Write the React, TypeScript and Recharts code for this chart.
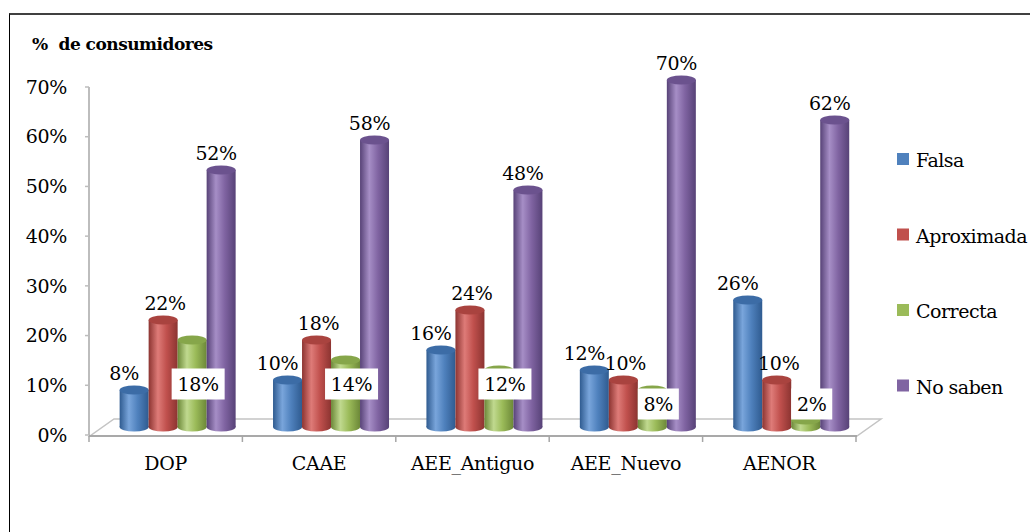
import React from 'react'
import { BarChart, Bar, XAxis, YAxis, LabelList } from 'recharts'

const categories = ['DOP', 'CAAE', 'AEE_Antiguo', 'AEE_Nuevo', 'AENOR']
const falsa = [8, 10, 16, 12, 26]
const aproximada = [22, 18, 24, 10, 10]
const correcta = [18, 14, 12, 8, 2]
const noSaben = [52, 58, 48, 70, 62]
const yTicks = [0, 10, 20, 30, 40, 50, 60, 70]

const FONT = 'DejaVu Serif, serif'
const FS = 19
const LS = -0.3

// cylinder colours: edge, highlight, body, cap; dx nudges the value label
const SERIES = [
  { key: 'falsa', name: 'Falsa', color: '#4F81BD', edge: '#2f5b90', light: '#79a5db', cap: '#3c6ca6', dx: -10 },
  { key: 'aproximada', name: 'Aproximada', color: '#C0504D', edge: '#8c3431', light: '#de7b78', cap: '#a9433f', dx: 2 },
  { key: 'correcta', name: 'Correcta', color: '#9BBB59', edge: '#6c8838', light: '#c0d98f', cap: '#86a64a', dx: 6 },
  { key: 'noSaben', name: 'No saben', color: '#8064A2', edge: '#574277', light: '#a68ec6', cap: '#6b528e', dx: -5 },
]

const data = categories.map((cat, i) => ({
  cat,
  falsa: falsa[i],
  aproximada: aproximada[i],
  correcta: correcta[i],
  noSaben: noSaben[i],
}))

// chart frame
const W = 1030
const H = 532
const PLOT_L = 89
const PLOT_R = 856
const PLOT_T = 87
const PLOT_B = 435
const BAND = (PLOT_R - PLOT_L) / categories.length

// 3D depth: bars stand half way back on the floor
const DEPTH_X = 11
const CAP_ZERO = 430
const BASE_Y = 427
const LIFT = 350 / (PLOT_B - PLOT_T)
const RY = 4.5
const FLOOR_BACK_Y = 419
const FLOOR_FRONT_Y = 436
const FLOOR_DX = 24

const capY = (y: number) => CAP_ZERO - (PLOT_B - y) * LIFT

function Cylinder(props: any) {
  const { x, y, width, index, s } = props
  const left = x + DEPTH_X
  const cx = left + width / 2
  const top = capY(y)
  const id = `cyl-${s.key}-${index}`
  return (
    <g>
      <defs>
        <linearGradient id={id} x1="0" y1="0" x2="1" y2="0">
          <stop offset="0%" stopColor={s.edge} />
          <stop offset="32%" stopColor={s.light} />
          <stop offset="62%" stopColor={s.color} />
          <stop offset="100%" stopColor={s.edge} />
        </linearGradient>
      </defs>
      <ellipse cx={cx} cy={BASE_Y} rx={width / 2} ry={RY} fill={`url(#${id})`} />
      <rect x={left} y={top} width={width} height={Math.max(0, BASE_Y - top)} fill={`url(#${id})`} />
      <ellipse cx={cx} cy={top} rx={width / 2} ry={RY} fill={s.cap} />
    </g>
  )
}

function box(p: any) {
  const vb = p.viewBox ?? p
  return { x: vb.x ?? p.x, y: vb.y ?? p.y, width: vb.width ?? p.width }
}

function topLabel(dx: number) {
  return (p: any) => {
    const { x, y, width } = box(p)
    const cx = x + DEPTH_X + width / 2 + dx
    return (
      <text x={cx} y={capY(y) - RY - 6} textAnchor="middle" fontSize={FS} letterSpacing={LS} fontFamily={FONT} fill="#000">
        {`${p.value}%`}
      </text>
    )
  }
}

function boxedLabel(dx: number) {
  return (p: any) => {
    const { x, width } = box(p)
    const text = `${p.value}%`
    const cx = x + DEPTH_X + width / 2 + dx
    const cy = p.value >= 10 ? 384 : 404
    const bw = text.length === 3 ? 53 : 41
    return (
      <g>
        <rect x={cx - bw / 2} y={cy - 15.5} width={bw} height={31} fill="#fff" />
        <text x={cx} y={cy + 7} textAnchor="middle" fontSize={FS} letterSpacing={LS} fontFamily={FONT} fill="#000">
          {text}
        </text>
      </g>
    )
  }
}

function CatTick(p: any) {
  const { x, payload, index } = p
  const last = index === categories.length - 1
  return (
    <g>
      <line x1={x - BAND / 2} y1={FLOOR_FRONT_Y} x2={x - BAND / 2} y2={FLOOR_FRONT_Y + 6} stroke="#a6a6a6" strokeWidth={1.5} />
      {last && (
        <line x1={x + BAND / 2} y1={FLOOR_FRONT_Y} x2={x + BAND / 2} y2={FLOOR_FRONT_Y + 6} stroke="#a6a6a6" strokeWidth={1.5} />
      )}
      <text x={x} y={470} textAnchor="middle" fontSize={FS} letterSpacing={LS} fontFamily={FONT} fill="#000">
        {payload.value}
      </text>
    </g>
  )
}

function LegendBox() {
  return (
    <svg width={133} height={260} style={{ position: 'absolute', left: 897, top: 153, overflow: 'visible' }}>
      {SERIES.map((s, i) => (
        <g key={s.key} transform={`translate(0, ${i * 75.5})`}>
          <rect x={0} y={0} width={12} height={12} fill={s.color} />
          <text x={19} y={14} fontSize={FS} letterSpacing={-0.5} fontFamily={FONT} fill="#000">
            {s.name}
          </text>
        </g>
      ))}
    </svg>
  )
}

function Floor() {
  const pts = [
    [PLOT_L + 1, FLOOR_FRONT_Y],
    [PLOT_R + 1, FLOOR_FRONT_Y],
    [PLOT_R + 1 + FLOOR_DX, FLOOR_BACK_Y],
    [PLOT_L + 1 + FLOOR_DX, FLOOR_BACK_Y],
  ]
  return (
    <svg width={W} height={H} style={{ position: 'absolute', left: 0, top: 0 }}>
      <text
        x={32}
        y={50}
        fontSize={17}
        fontWeight="bold"
        letterSpacing={-0.5}
        fontFamily={FONT}
        fill="#000"
        style={{ whiteSpace: 'pre' }}
      >
        %  de consumidores
      </text>
      <polygon points={pts.map((p) => p.join(',')).join(' ')} fill="#fff" stroke="#c4c4c4" strokeWidth={1.5} />
      <line x1={PLOT_L} y1={FLOOR_FRONT_Y} x2={PLOT_R + 1} y2={FLOOR_FRONT_Y} stroke="#a9a9a9" strokeWidth={2} />
    </svg>
  )
}

export default function App() {
  return (
    <div style={{ position: 'fixed', left: 0, top: 0, width: W, height: H, overflow: 'hidden', background: '#fff' }}>
      <div
        style={{
          position: 'absolute',
          left: 9,
          top: 13,
          width: W + 20,
          height: H + 20,
          borderTop: '2px solid #404040',
          borderLeft: '1px solid #000',
        }}
      />
      <Floor />
      <div style={{ position: 'absolute', left: 0, top: 0 }}>
        <BarChart
          width={W}
          height={H}
          data={data}
          margin={{ top: PLOT_T, right: W - PLOT_R, bottom: H - PLOT_B - 30, left: PLOT_L - 60 }}
          barCategoryGap="12.8%"
          barGap={0}
        >
          <XAxis dataKey="cat" axisLine={false} tickLine={false} tickSize={0} tick={<CatTick />} interval={0} height={30} />
          <YAxis
            domain={[0, 70]}
            ticks={yTicks}
            tickFormatter={(v) => `${v}%`}
            width={60}
            axisLine={{ stroke: '#bdbdbd', strokeWidth: 2 }}
            tickLine={{ stroke: '#bdbdbd', strokeWidth: 1.5 }}
            tickSize={4}
            tickMargin={18}
            tick={{ fill: '#000', fontSize: FS, fontFamily: FONT, letterSpacing: LS }}
          />
          {SERIES.map((s) => (
            <Bar
              key={s.key}
              dataKey={s.key}
              name={s.name}
              fill={s.color}
              isAnimationActive={false}
              shape={(p: any) => <Cylinder {...p} s={s} />}
            >
              <LabelList dataKey={s.key} content={s.key === 'correcta' ? boxedLabel(s.dx) : topLabel(s.dx)} />
            </Bar>
          ))}
        </BarChart>
      </div>
      <LegendBox />
    </div>
  )
}
